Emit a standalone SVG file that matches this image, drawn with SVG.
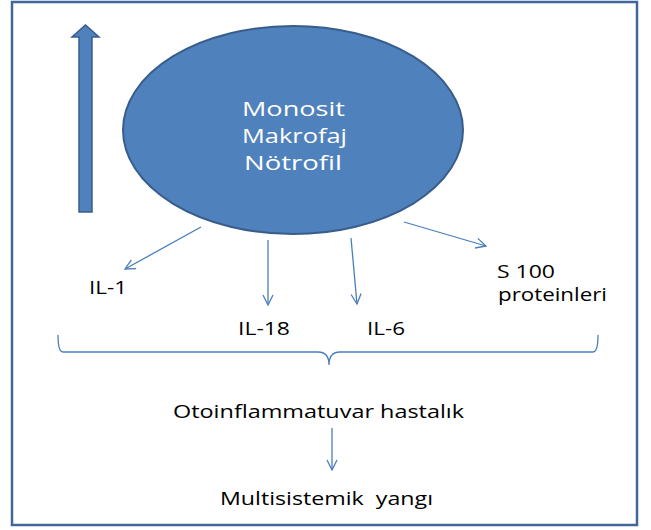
<svg xmlns="http://www.w3.org/2000/svg" width="651" height="530" viewBox="0 0 651 530">
<defs>
<style>
.lbl{font-family:"Open Sans","Liberation Sans",sans-serif;font-size:18px;fill:#000}
.wt{font-family:"Open Sans","Liberation Sans",sans-serif;font-size:20px;fill:#fff}
.con{stroke:#4a7ebb;stroke-width:1.3;fill:none}
</style>
<marker id="ah" viewBox="0 0 12 12" refX="11" refY="6" markerWidth="12" markerHeight="12" markerUnits="userSpaceOnUse" orient="auto">
<path d="M1,1 L11,6 L1,11" fill="none" stroke="#4a7ebb" stroke-width="1.3"/>
</marker>
</defs>
<rect x="0" y="0" width="651" height="530" fill="#fff"/>
<rect id="frame" x="12" y="2" width="625" height="523" fill="none" stroke="#41669a" stroke-width="2.5"/>
<g id="up-arrow">
<path d="M79,212 L79,37 L72,37 L85.5,25 L99,37 L92,37 L92,212 Z" fill="#4f81bd" stroke="#385d8a" stroke-width="1.5"/>
</g>
<g id="cells">
<ellipse cx="293" cy="130" rx="170" ry="104" fill="#4f81bd" stroke="#385d8a" stroke-width="2"/>
<text class="wt" x="242" y="116" textLength="103" lengthAdjust="spacingAndGlyphs">Monosit</text>
<text class="wt" x="242" y="143" textLength="105" lengthAdjust="spacingAndGlyphs">Makrofaj</text>
<text class="wt" x="244" y="170" textLength="98" lengthAdjust="spacingAndGlyphs">Nötrofil</text>
</g>
<g id="connectors">
<line class="con" x1="201" y1="227" x2="125" y2="269" marker-end="url(#ah)"/>
<line class="con" x1="268" y1="240" x2="268" y2="305" marker-end="url(#ah)"/>
<line class="con" x1="351" y1="238" x2="357" y2="304" marker-end="url(#ah)"/>
<line class="con" x1="404" y1="222" x2="486" y2="246" marker-end="url(#ah)"/>
<path class="con" d="M58,335 Q58,352 63,352 L318,352 Q329,352 329,365 Q329,352 340,352 L593,352 Q598,352 598,335"/>
<line class="con" x1="332" y1="428" x2="332" y2="470" marker-end="url(#ah)"/>
</g>
<g id="il1"><text class="lbl" x="89" y="294" textLength="38" lengthAdjust="spacingAndGlyphs">IL-1</text></g>
<g id="il18"><text class="lbl" x="238" y="335" textLength="52" lengthAdjust="spacingAndGlyphs">IL-18</text></g>
<g id="il6"><text class="lbl" x="367" y="335" textLength="38" lengthAdjust="spacingAndGlyphs">IL-6</text></g>
<g id="s100"><text class="lbl" x="497" y="278" textLength="58" lengthAdjust="spacingAndGlyphs">S 100</text><text class="lbl" x="498" y="301" textLength="109" lengthAdjust="spacingAndGlyphs">proteinleri</text></g>
<g id="oto"><text class="lbl" x="173" y="418" textLength="291" lengthAdjust="spacingAndGlyphs">Otoinflammatuvar hastalık</text></g>
<g id="multi"><text class="lbl" x="220" y="505" textLength="213" lengthAdjust="spacingAndGlyphs" xml:space="preserve">Multisistemik  yangı</text></g>
</svg>
